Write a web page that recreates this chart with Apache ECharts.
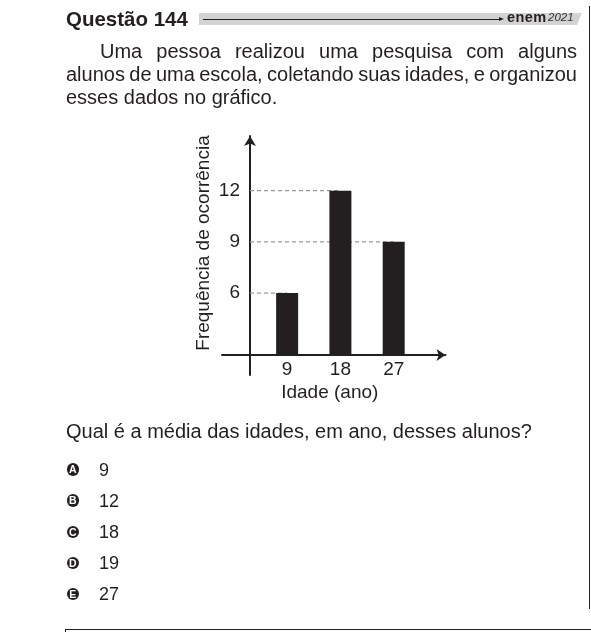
<!DOCTYPE html>
<html>
<head>
<meta charset="utf-8">
<script src="https://cdn.jsdelivr.net/npm/echarts@6/dist/echarts.min.js"></script>
<style>
  html, body { margin:0; padding:0; background:#fff; }
  body { width:591px; height:632px; position:relative; overflow:hidden; font-family:'Liberation Sans', Arial, sans-serif; color:#231f20; }
  #chart { position:absolute; left:0; top:0; width:591px; height:632px; }
  .abs { position:absolute; white-space:nowrap; }
  .body { font-size:20px; line-height:20px; }
  .just { text-align:justify; text-align-last:justify; white-space:normal; }
  .opt { font-size:18px; line-height:18px; left:99px; }
  .badge { position:absolute; width:12.6px; height:12.6px; border-radius:50%; background:#231f20; color:#fff;
           font:bold 10.5px/12.6px 'Liberation Sans', Arial, sans-serif; text-align:center; left:66.5px; }
</style>
</head>
<body>
<div id="chart"></div>

<!-- header -->
<div class="abs" style="left:66px;top:8.6px;font-weight:bold;font-size:20.5px;line-height:20.5px;">Questão 144</div>
<div class="abs" style="left:199px;top:12.5px;width:383px;height:12.5px;background:#d3d3d3;clip-path:polygon(0 0,100% 0,calc(100% - 5px) 100%,0 100%);"></div>
<div class="abs" style="left:203px;top:18.5px;width:297px;height:1px;background:#231f20;"></div>
<div class="abs" style="left:499px;top:16.5px;width:0;height:0;border-top:2.5px solid transparent;border-bottom:2.5px solid transparent;border-left:5px solid #231f20;"></div>
<div class="abs" style="left:507px;top:10px;font-weight:bold;font-size:14.5px;line-height:14.5px;letter-spacing:0.4px;">enem</div>
<div class="abs" style="left:548px;top:12.3px;font-style:italic;font-size:11.5px;line-height:11.5px;color:#333;">2021</div>

<!-- right border and bottom box -->
<div class="abs" style="left:588.5px;top:6px;width:1.5px;height:603px;background:#231f20;"></div>
<div class="abs" style="left:64.5px;top:629px;width:540px;height:20px;border-top:1.5px solid #231f20;border-left:1.5px solid #231f20;"></div>

<div id="para"></div>
<div id="question"></div>
<div id="options"></div>

<script>
// ---- chart data ----
const ages = [9, 18, 27];            // Idade (ano)
const freqs = [6, 12, 9];            // Frequência de ocorrência
const xTickLabels = [9, 18, 27];
const yTickLabels = [6, 9, 12];
const xAxisName = 'Idade (ano)';
const yAxisName = 'Frequência de ocorrência';

// ---- text content ----
const paraLines = [
  'Uma pessoa realizou uma pesquisa com alguns',
  'alunos de uma escola, coletando suas idades, e organizou',
  'esses dados no gráfico.'
];
const questionText = 'Qual é a média das idades, em ano, desses alunos?';
const optionLetters = ['A', 'B', 'C', 'D', 'E'];
const optionValues = ['9', '12', '18', '19', '27'];

// ---- layout constants (not data) ----
const AXIS_CROSS_X = 2.73;   // x value where the vertical axis sits
const INK = '#231f20';

// paragraph
const para = document.getElementById('para');
const paraLayout = [
  {left:100, top:41.4, width:477, cls:'just', ws:'0px'},
  {left:66,  top:64.1, width:511, cls:'just', ws:'-1.5px'},
  {left:66,  top:86.6, width:null, cls:'', ws:'0px'}
];
paraLines.forEach((t, i) => {
  const L = paraLayout[i];
  const d = document.createElement('div');
  d.className = 'abs body ' + L.cls;
  d.style.left = L.left + 'px'; d.style.top = L.top + 'px';
  if (L.width) d.style.width = L.width + 'px';
  d.style.wordSpacing = L.ws;
  d.textContent = t;
  para.appendChild(d);
});
const q = document.createElement('div');
q.className = 'abs body'; q.style.left = '66px'; q.style.top = '421.1px';
q.textContent = questionText;
document.getElementById('question').appendChild(q);

const opts = document.getElementById('options');
optionLetters.forEach((l, i) => {
  const base = 475.8 + i * 31.1;
  const b = document.createElement('div');
  b.className = 'badge'; b.style.top = (base - 6.2 - 6.3) + 'px';
  b.textContent = l; opts.appendChild(b);
  const t = document.createElement('div');
  t.className = 'abs opt'; t.style.top = (base - 15.24) + 'px';
  t.textContent = optionValues[i]; opts.appendChild(t);
});

// chart
const chart = echarts.init(document.getElementById('chart'), null, {renderer:'canvas'});
const refSeries = freqs.map((f, i) => ({
  type: 'line',
  data: [[AXIS_CROSS_X, f], [ages[i], f]],
  symbol: 'none',
  z: 1,
  silent: true,
  animation: false,
  lineStyle: { color: '#9a9a9a', width: 1.3, type: [4, 3] }
}));
const axisFont = { fontFamily: 'Liberation Sans', fontSize: 19, color: INK };
chart.setOption({
  animation: false,
  grid: { left: 222, top: 136, width: 223.5, height: 239, containLabel: false },
  xAxis: {
    type: 'value', min: -2, max: 35.75, offset: -20,
    name: xAxisName, nameLocation: 'middle', nameGap: 28.5,
    nameTextStyle: Object.assign({}, axisFont, { padding: [0, 8, 0, 0] }),
    axisLine: { onZero: false, symbol: ['none', 'arrow'], symbolSize: [9, 9], lineStyle: { color: INK, width: 2 } },
    axisTick: { show: false },
    splitLine: { show: false },
    axisLabel: Object.assign({ customValues: xTickLabels, margin: 5 }, axisFont)
  },
  yAxis: {
    type: 'value', min: 1.2, max: 15.2, startValue: 2.37, offset: -28,
    name: yAxisName, nameLocation: 'middle', nameGap: 37, nameRotate: 90,
    nameTextStyle: Object.assign({}, axisFont, { padding: [0, 0, 0, 25] }),
    axisLine: { onZero: false, symbol: ['none', 'arrow'], symbolSize: [9, 10], lineStyle: { color: INK, width: 2 } },
    axisTick: { show: false },
    splitLine: { show: false },
    axisLabel: Object.assign({ customValues: yTickLabels, margin: 10 }, axisFont)
  },
  series: refSeries.concat([{
    type: 'bar',
    data: ages.map((a, i) => [a, freqs[i]]),
    barWidth: 22,
    z: 3,
    itemStyle: { color: INK },
    animation: false
  }])
});
</script>
</body>
</html>
